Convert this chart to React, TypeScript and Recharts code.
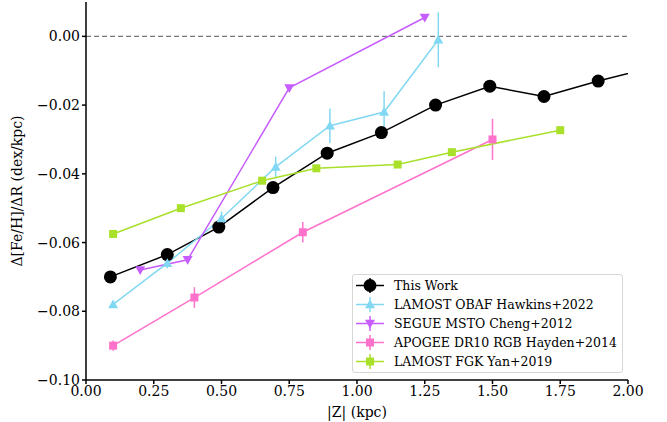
import { LineChart, Line, XAxis, YAxis, ErrorBar, ReferenceLine, Legend, Label } from 'recharts';

// |Z| (kpc) and radial metallicity gradient per survey
const thisWorkZ = [0.09, 0.3, 0.49, 0.69, 0.89, 1.09, 1.29, 1.49, 1.69, 1.89, 2.09];
const thisWorkGrad = [-0.07, -0.0635, -0.0555, -0.044, -0.034, -0.028, -0.02, -0.0145, -0.0175, -0.013, -0.009];
const thisWorkErr = [0.0008, 0.0008, 0.0008, 0.0008, 0.0008, 0.0008, 0.0008, 0.0012, 0.0014, 0.0015, 0];

const hawkinsZ = [0.1, 0.3, 0.5, 0.7, 0.9, 1.1, 1.3];
const hawkinsGrad = [-0.078, -0.066, -0.053, -0.038, -0.026, -0.022, -0.001];
const hawkinsErr = [0.0005, 0.0015, 0.002, 0.003, 0.005, 0.006, 0.008];

const chengZ = [0.2, 0.375, 0.75, 1.25];
const chengGrad = [-0.068, -0.065, -0.015, 0.0055];
const chengErr = [0.0005, 0.0005, 0.0005, 0.0005];

const haydenZ = [0.1, 0.4, 0.8, 1.5];
const haydenGrad = [-0.09, -0.076, -0.057, -0.03];
const haydenErr = [0.0015, 0.003, 0.003, 0.006];

const yanZ = [0.1, 0.35, 0.65, 0.85, 1.15, 1.35, 1.75];
const yanGrad = [-0.0575, -0.05, -0.042, -0.0384, -0.0373, -0.0337, -0.0273];
const yanErr = [0.0005, 0.0005, 0.0005, 0.0005, 0.0005, 0.0005, 0.0005];

const xTicks = [0, 0.25, 0.5, 0.75, 1, 1.25, 1.5, 1.75, 2];
const yTicks = [-0.1, -0.08, -0.06, -0.04, -0.02, 0];

const rows = (z: number[], g: number[], e: number[]) => z.map((v, i) => ({ z: v, grad: g[i], err: e[i] }));

const series = [
  { name: 'This Work', color: '#000000', shape: 'circle', data: rows(thisWorkZ, thisWorkGrad, thisWorkErr) },
  { name: 'LAMOST OBAF Hawkins+2022', color: '#82d8f2', shape: 'up', data: rows(hawkinsZ, hawkinsGrad, hawkinsErr) },
  { name: 'SEGUE MSTO Cheng+2012', color: '#c75cff', shape: 'down', data: rows(chengZ, chengGrad, chengErr) },
  { name: 'APOGEE DR10 RGB Hayden+2014', color: '#ff72cc', shape: 'square', data: rows(haydenZ, haydenGrad, haydenErr) },
  { name: 'LAMOST FGK Yan+2019', color: '#a8e02a', shape: 'square', data: rows(yanZ, yanGrad, yanErr) },
];

const serif = 'DejaVu Serif, serif';

function marker(shape: string, color: string, cx: number, cy: number, key?: any) {
  if (shape === 'circle') return <circle key={key} cx={cx} cy={cy} r={6.5} fill={color} />;
  if (shape === 'square') return <rect key={key} x={cx - 4} y={cy - 4} width={8} height={8} fill={color} />;
  const s = 5;
  const pts = shape === 'up'
    ? `${cx},${cy - s} ${cx - s},${cy + s * 0.75} ${cx + s},${cy + s * 0.75}`
    : `${cx},${cy + s} ${cx - s},${cy - s * 0.75} ${cx + s},${cy - s * 0.75}`;
  return <polygon key={key} points={pts} fill={color} />;
}

const fmt = (v: number) => v.toFixed(2).replace('-', '\u2212');

function LegendBox() {
  return (
    <div style={{ boxSizing: 'border-box', width: 271, border: '1px solid #d6d6d6', borderRadius: 3, background: 'rgba(255,255,255,0.85)', padding: '1px 0 1px 2px', fontFamily: serif, fontSize: 12.5, color: '#000' }}>
      {series.map((s) => (
        <div key={s.name} style={{ display: 'flex', alignItems: 'center', height: 19 }}>
          <svg width={30} height={19} style={{ marginRight: 9, flex: 'none' }}>
            <line x1={1} x2={29} y1={9.5} y2={9.5} stroke={s.color} strokeWidth={1.5} />
            <line x1={15} x2={15} y1={2} y2={17} stroke={s.color} strokeWidth={1.5} />
            {marker(s.shape, s.color, 15, 9.5)}
          </svg>
          <span style={{ whiteSpace: 'nowrap' }}>{s.name}</span>
        </div>
      ))}
    </div>
  );
}

export default function App() {
  return (
    <div style={{ position: 'absolute', left: 0, top: 0 }}>
      <LineChart width={667} height={422} margin={{ top: 2, right: 39, left: 0, bottom: 0 }}>
        <XAxis dataKey="z" type="number" domain={[0, 2]} ticks={xTicks} allowDataOverflow tickFormatter={fmt}
          height={42} tickSize={4} stroke="#000" strokeWidth={1.5}
          tick={{ fill: '#000', fontFamily: serif, fontSize: 14 }}>
          <Label value="|Z| (kpc)" position="insideBottom" offset={5} style={{ fill: '#000', fontFamily: serif, fontSize: 14 }} />
        </XAxis>
        <XAxis xAxisId="top" orientation="top" type="number" domain={[0, 2]} height={0} tick={false} tickLine={false} stroke="#000" strokeWidth={1.5} />
        <YAxis type="number" domain={[-0.1, 0.01]} ticks={yTicks} allowDataOverflow tickFormatter={fmt}
          width={86} tickSize={4} stroke="#000" strokeWidth={1.5}
          tick={{ fill: '#000', fontFamily: serif, fontSize: 14 }}>
          <Label value="Δ[Fe/H]/ΔR (dex/kpc)" angle={-90} position="insideLeft" offset={17} style={{ textAnchor: 'middle', fill: '#000', fontFamily: serif, fontSize: 14 }} />
        </YAxis>
        <YAxis yAxisId="right" orientation="right" type="number" domain={[-0.1, 0.01]} width={0} tick={false} tickLine={false} stroke="#000" strokeWidth={1.5} />
        <ReferenceLine y={0} stroke="#777" strokeDasharray="5 3" strokeWidth={1.2} />
        {series.map((s) => (
          <Line key={s.name} data={s.data} dataKey="grad" name={s.name} stroke={s.color} strokeWidth={1.5}
            isAnimationActive={false} activeDot={false} legendType="none"
            dot={(p: any) => marker(s.shape, s.color, p.cx, p.cy, `${s.name}-${p.index}`)}>
            <ErrorBar dataKey="err" direction="y" width={0} stroke={s.color} strokeWidth={1.5} />
          </Line>
        ))}
        <Legend layout="vertical" align="center" verticalAlign="middle" content={() => <LegendBox />}
          wrapperStyle={{ position: 'absolute', left: 352, top: 274, width: 271, right: 'auto', bottom: 'auto', margin: 0 }} />
      </LineChart>
    </div>
  );
}
